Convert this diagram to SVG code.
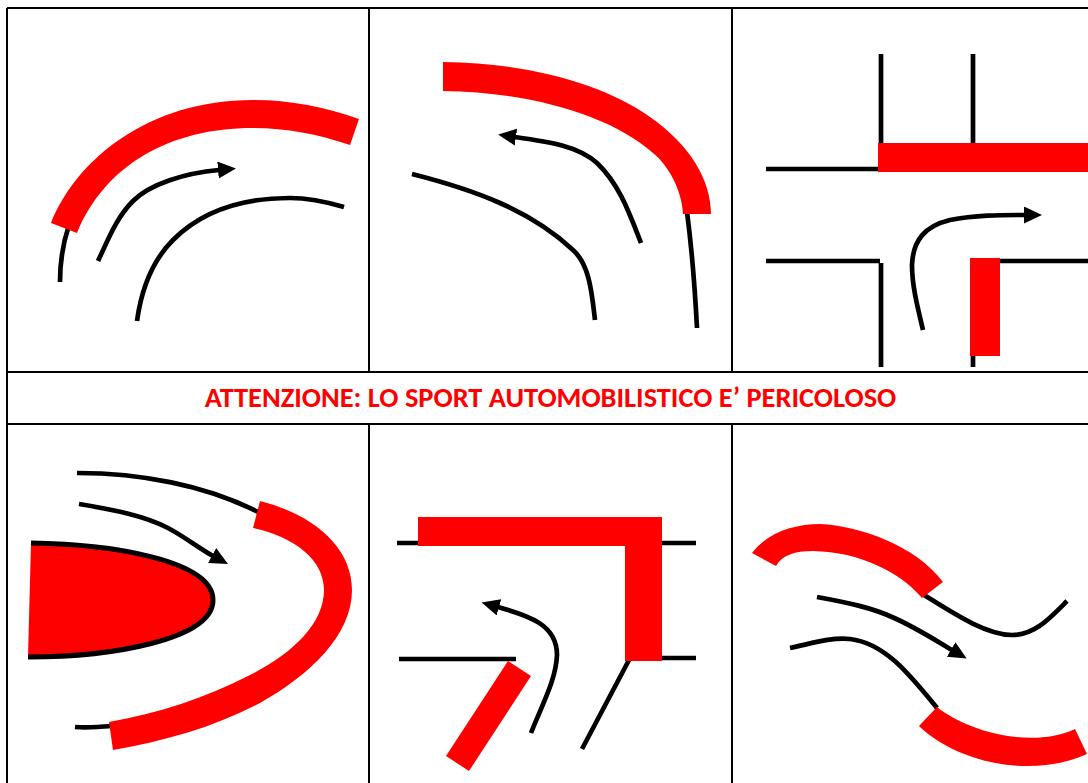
<svg xmlns="http://www.w3.org/2000/svg" width="1088" height="783" viewBox="0 0 1088 783">
<defs>
<marker id="ah" markerUnits="userSpaceOnUse" markerWidth="20" markerHeight="18" refX="1" refY="8.5" orient="auto"><polygon points="0,0 18,8.5 0,17" fill="#000"/></marker>
</defs>
<style>
.g{fill:none;stroke:#000;stroke-width:2}
.k{fill:none;stroke:#000;stroke-width:4.7}
.a{fill:none;stroke:#000;stroke-width:4.7;marker-end:url(#ah)}
.f{fill:#f00}
text{font-family:"Carlito","Lato","Liberation Sans",sans-serif;font-weight:700;font-size:28.4px;fill:#f00}
</style>
<rect width="1088" height="783" fill="#fff"/>
<g id="grid">
<path class="g" d="M7 8H1088M7 372H1088M7 424H1088M7 8V783M369 8V372M732 8V372M369 424V783M732 424V783"/>
</g>
<g id="connectors">
<path class="k" d="M60 282C60 262 63 243 69 225"/>
<path class="a" d="M98 261C108 240 116 218 133 201C150 184 185 173 219 170"/>
<path class="k" d="M137 321C142 285 155 258 173 240C200 213 240 198 290 198C310 198 327 202 344 207"/>
<path class="k" d="M687 212C692 250 695 290 697 328"/>
<path class="a" d="M641 243C630 215 620 185 597 163C578 146 550 142 515 137"/>
<path class="k" d="M595 320C592 295 590 265 573 250C530 210 475 190 412 174"/>
<path class="k" d="M881 54V146M973 54V146M766 169H882M766 261H880M881 263V367M973 356V367M999 261H1088"/>
<path class="a" d="M923 330C917 305 912 285 912 265C913 240 925 226 950 220C975 215 1000 215 1025 215"/>
<path class="k" d="M77 473C140 473 205 485 258 512"/>
<path class="a" d="M79 504C115 510 145 516 168 528C185 537 200 549 213 556"/>
<path class="k" d="M75 727C87 728 100 727 112 726"/>
<path class="k" d="M397 543H420M660 543H696M660 658H696M399 659H516M629 660L582 749"/>
<path class="a" d="M531 733C542 705 556 680 557 655C557 625 530 616 498 607"/>
<path class="k" d="M924 595C950 611 985 635 1012 635C1035 635 1050 618 1067 601"/>
<path class="a" d="M817 597C850 603 872 608 892 617C915 627 935 640 952 650"/>
<path class="k" d="M790 648C810 644 830 637 850 639C885 643 910 675 937 708"/>
</g>
<g id="hazards">
<path class="f" d="M51 223C76 160 148 100 253 100C290 100 325 107 359 119L350 145C318 134 285 128 253 128C170 128 105 165 77 233Z"/>
<path class="f" d="M443 62C530 63 605 85 650 117C690 145 711 180 711 214H683C682 190 668 165 653 153C610 115 530 92 443 91Z"/>
<rect class="f" x="878" y="143" width="210" height="29"/>
<rect class="f" x="970" y="258" width="30" height="98"/>
<path class="f" d="M260 501C315 515 352 548 352 590C352 635 310 675 260 703C215 727 165 741 113 750L109 722C160 713 205 698 250 675C290 655 324 625 324 590C324 560 295 537 253 528Z"/>
<path id="island" d="M31 543C110 544 213 560 213 600C213 640 110 657 28 657" fill="#f00" stroke="#000" stroke-width="5"/>
<path class="f" d="M418 517H662V661H625V546H418Z"/>
<polygon class="f" points="508,661 531,676 469,771 446,756"/>
<path class="f" d="M752 553C768 532 795 524 820 524C860 526 915 545 943 582L922 598C900 572 860 552 813 551C795 551 782 555 776 566Z"/>
<path class="f" d="M937 707C965 730 1030 750 1075 729L1087 754C1035 778 960 765 919 726Z"/>
</g>
<text id="title" x="550.5" y="407" text-anchor="middle">ATTENZIONE: LO SPORT AUTOMOBILISTICO E’ PERICOLOSO</text>
</svg>
